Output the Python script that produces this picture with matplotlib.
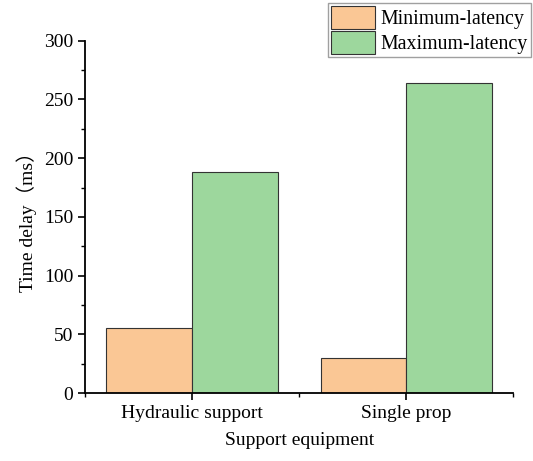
import numpy as np
import matplotlib
matplotlib.use("Agg")
import matplotlib.pyplot as plt
from matplotlib.ticker import MultipleLocator

plt.rcParams["font.family"] = ["Liberation Serif", "Noto Sans CJK SC"]

categories = ["Hydraulic support", "Single prop"]
min_latency = [55, 30]
max_latency = [188, 264]
series_labels = ["Minimum-latency", "Maximum-latency"]

x = np.arange(1, len(categories) + 1)
w = 0.4

fig = plt.figure(figsize=(5.33, 4.61), dpi=100)
ax = fig.add_axes([0.1595, 0.1475, 0.8035, 0.764])

b1 = ax.bar(x - w / 2, min_latency, w, color="#FAC795", edgecolor="#333333",
            linewidth=0.8, label=series_labels[0])
b2 = ax.bar(x + w / 2, max_latency, w, color="#9DD79D", edgecolor="#333333",
            linewidth=0.8, label=series_labels[1])

ax.set_xlim(0.5, 2.5)
ax.set_ylim(0, 300)
ax.set_xticks(x)
ax.set_xticklabels(categories)
ax.xaxis.set_minor_locator(MultipleLocator(1.0, offset=0.5))
ax.yaxis.set_major_locator(MultipleLocator(50))
ax.yaxis.set_minor_locator(MultipleLocator(25))
ax.tick_params(axis="both", which="major", direction="out", length=5, width=1.2, labelsize=14)
ax.tick_params(axis="both", which="minor", direction="out", length=3, width=1.0)

for s in ["top", "right"]:
    ax.spines[s].set_visible(False)
for s in ["left", "bottom"]:
    ax.spines[s].set_linewidth(1.3)

ax.set_xlabel("Support equipment", fontsize=14, labelpad=7)
ax.set_ylabel("Time delay（ms）", fontsize=14, labelpad=5)

leg = fig.legend(handles=[b1, b2], labels=series_labels, loc="upper right",
                 bbox_to_anchor=(0.996, 0.993), fontsize=14.3, frameon=True,
                 fancybox=False, edgecolor="#888888", handlelength=2.2,
                 handleheight=1.4, handletextpad=0.3, borderpad=0.15,
                 labelspacing=0.08, borderaxespad=0)
leg.get_frame().set_linewidth(1.0)

fig.savefig("out.png", dpi=100)
